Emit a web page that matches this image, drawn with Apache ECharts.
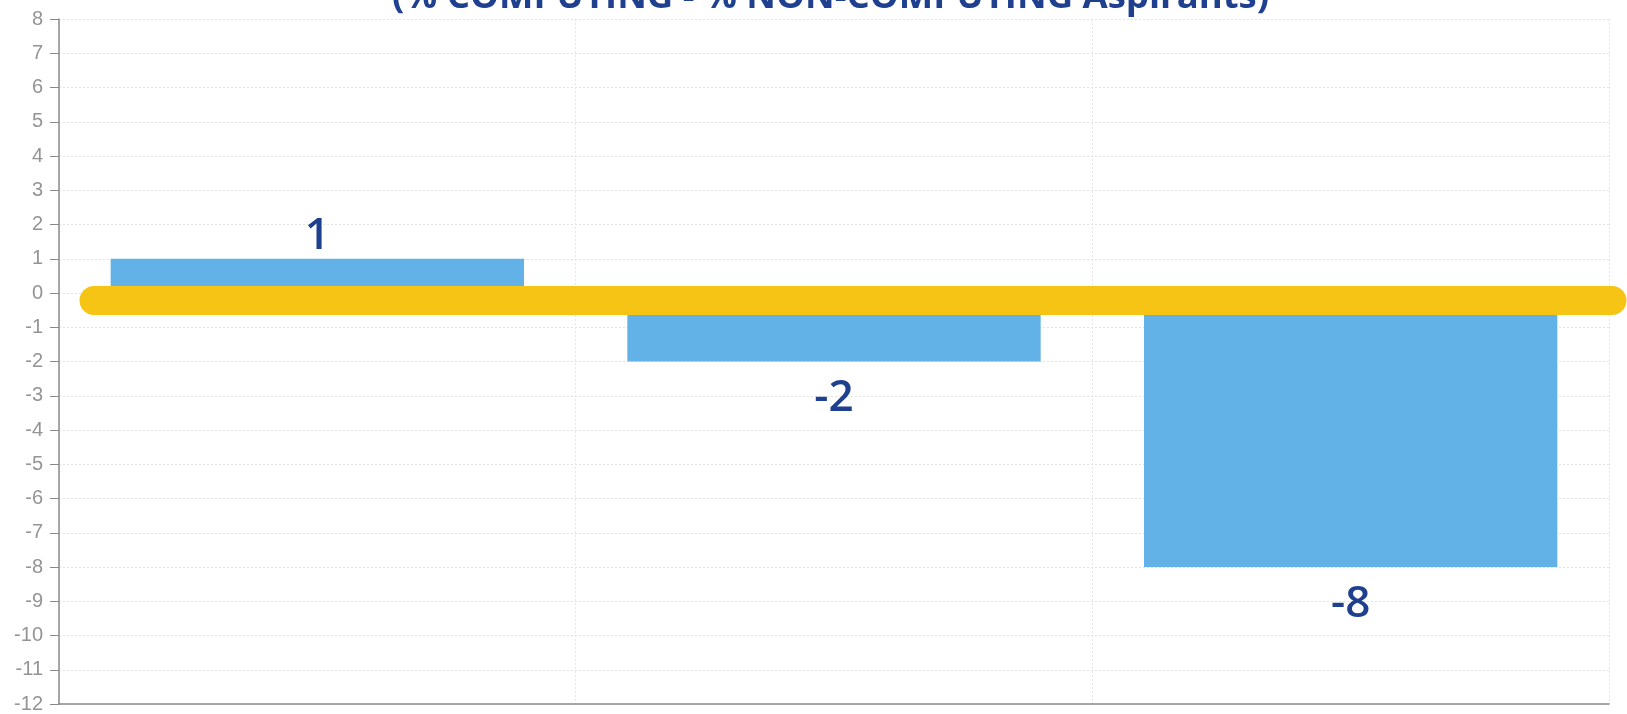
<!DOCTYPE html>
<html>
<head>
<meta charset="utf-8">
<script src="https://cdn.jsdelivr.net/npm/echarts@6/dist/echarts.min.js"></script>
<style>
  html, body { margin: 0; padding: 0; background: #ffffff; }
  #chart { width: 1627px; height: 714px; }
</style>
</head>
<body>
<div id="chart"></div>
<script>
// Difference in share of aspirants, computing minus non-computing
const categories = ['Group 1', 'Group 2', 'Group 3'];
const differences = [1, -2, -8];
const referenceLevel = [-0.2];
const titleText = '(% COMPUTING - % NON-COMPUTING Aspirants)';
const yTicks = { min: -12, max: 8, step: 1 };

const navy = '#1f3f8f';
const barBlue = '#62b2e8';
const gold = '#f5c414';

const barData = differences.map(v => ({
  value: v,
  label: {
    position: v >= 0 ? 'top' : 'bottom',
    distance: v >= 0 ? 0 : 15
  }
}));

const chart = echarts.init(document.getElementById('chart'), null, { renderer: 'canvas' });

chart.setOption({
  animation: false,
  backgroundColor: '#ffffff',
  title: {
    text: titleText,
    left: 387,
    top: -26,
    textStyle: {
      color: navy,
      fontFamily: '"Open Sans", Lato, sans-serif',
      fontWeight: 'bold',
      fontSize: 36.5
    }
  },
  grid: { left: 59, right: 18, top: 19, bottom: 8, containLabel: false },
  xAxis: {
    type: 'category',
    data: categories,
    boundaryGap: true,
    axisLine: { show: true, onZero: false, lineStyle: { color: '#8a8a8a', width: 1.5 } },
    axisTick: { show: false },
    axisLabel: { show: false },
    splitLine: { show: true, lineStyle: { color: '#e6e6e6', type: [2, 2] } }
  },
  yAxis: {
    type: 'value',
    min: yTicks.min,
    max: yTicks.max,
    interval: yTicks.step,
    axisLine: { show: true, lineStyle: { color: '#8a8a8a', width: 1.5 } },
    axisTick: { show: true, length: 9, lineStyle: { color: '#8a8a8a' } },
    axisLabel: {
      color: '#949494',
      fontFamily: '"Liberation Sans", Arial, sans-serif',
      fontSize: 20,
      margin: 16
    },
    splitLine: { show: true, lineStyle: { color: '#e3e3e3', type: [2, 2] } }
  },
  series: [{
    type: 'bar',
    data: barData,
    barCategoryGap: '20%',
    itemStyle: { color: barBlue },
    label: {
      show: true,
      color: navy,
      fontFamily: '"Open Sans", Lato, sans-serif',
      fontWeight: 600,
      fontSize: 44
    },
    markLine: {
      silent: true,
      symbol: 'none',
      animation: false,
      label: { show: false },
      lineStyle: { color: gold, width: 29, type: 'solid', cap: 'round', opacity: 1 },
      data: [[
        { x: 94, yAxis: referenceLevel[0] },
        { x: 1612, yAxis: referenceLevel[0] }
      ]]
    }
  }]
});
</script>
</body>
</html>
